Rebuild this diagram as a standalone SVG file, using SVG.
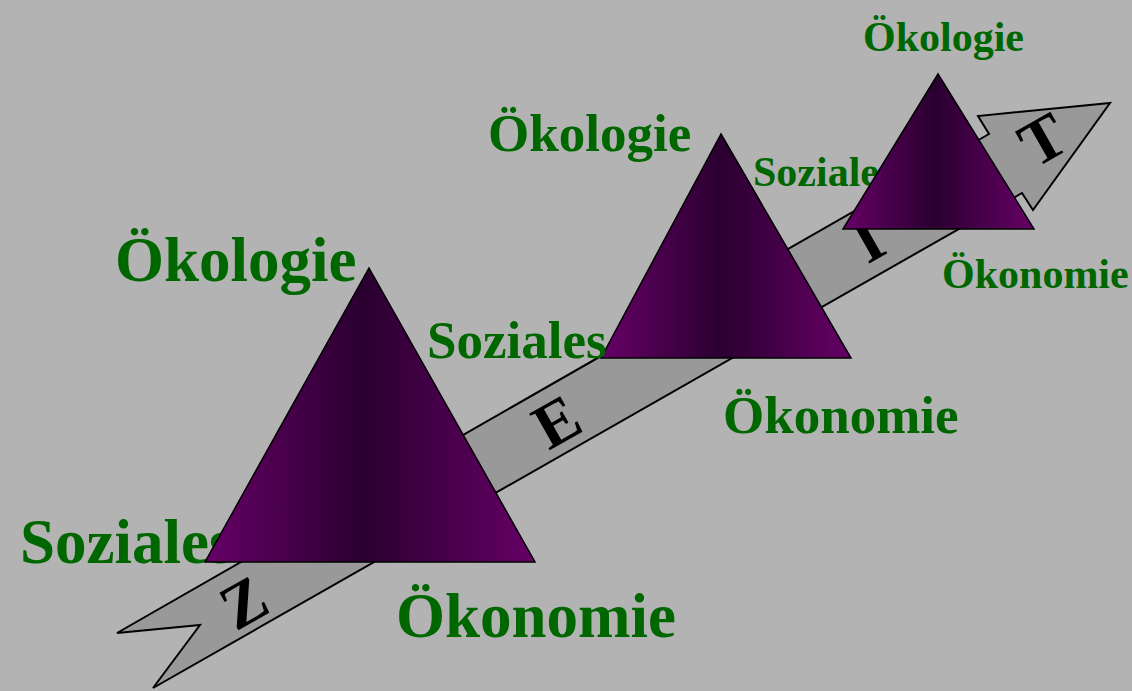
<svg xmlns="http://www.w3.org/2000/svg" width="1132" height="691" viewBox="0 0 1132 691">
<style>
.lbl{font-family:"Liberation Serif","Times New Roman",serif;font-weight:bold;fill:#006600}
.big{font-size:63px}
.mid{font-size:53px}
.sml{font-size:42px}
.zeit{font-family:"Liberation Serif","Times New Roman",serif;font-weight:bold;font-size:64px;fill:#000;text-anchor:middle}
.tri{fill:url(#tg);stroke:#000;stroke-width:1.5;stroke-linejoin:miter}
</style>
<defs>
<linearGradient id="tg" x1="0" y1="0" x2="1" y2="0">
<stop offset="0" stop-color="#660066"/>
<stop offset="0.48" stop-color="#2a0030"/>
<stop offset="1" stop-color="#660066"/>
</linearGradient>
</defs>
<rect width="1132" height="691" fill="#b3b3b3"/>
<g id="connectors">
<polygon points="117,633 989,134 978,116 1110,103 1033,210 1022,193 153,688 200,625" fill="#999999" stroke="#000" stroke-width="2" stroke-linejoin="miter"/>
<text class="zeit" transform="translate(244,603) rotate(-29.5)" y="21">Z</text>
<text class="zeit" transform="translate(557,422) rotate(-29.5)" y="21">E</text>
<text class="zeit" transform="translate(868,240) rotate(-29.5)" y="21">I</text>
<text class="zeit" transform="translate(1043,140) rotate(-29.5)" y="21">T</text>
</g>
<g id="node1">
<text class="lbl big" x="20" y="563">Soziales</text>
<polygon class="tri" points="369,268 535,562 205,562"/>
<text class="lbl big" x="115" y="281">Ökologie</text>
<text class="lbl big" x="396" y="637">Ökonomie</text>
</g>
<g id="node2">
<polygon class="tri" points="721,134 851,358 601,358"/>
<text class="lbl mid" x="488" y="151">Ökologie</text>
<text class="lbl mid" x="427" y="358">Soziales</text>
<text class="lbl mid" x="723" y="433">Ökonomie</text>
</g>
<g id="node3">
<text class="lbl sml" x="753" y="186">Soziales</text>
<polygon class="tri" points="938,74 1034,229 843,229"/>
<text class="lbl sml" x="863" y="51">Ökologie</text>
<text class="lbl sml" x="942" y="288">Ökonomie</text>
</g>
</svg>
